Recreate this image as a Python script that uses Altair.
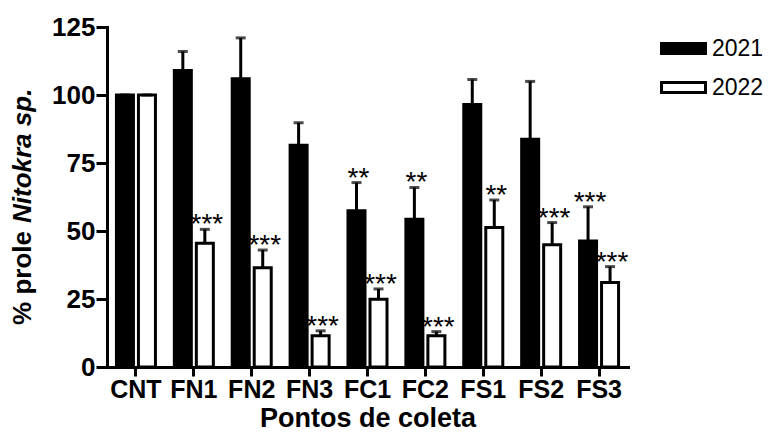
import altair as alt
import pandas as pd

categories = ["CNT", "FN1", "FN2", "FN3", "FC1", "FC2", "FS1", "FS2", "FS3"]
years = ["2021", "2022"]
mean_2021 = [100, 109, 106, 81.5, 57.4, 54.3, 96.5, 83.7, 46.3]
top_2021 = [100, 116, 121, 89.8, 67.8, 66.0, 105.7, 105.0, 58.9]
stars_2021 = ["", "", "", "", "**", "**", "", "", "***"]
mean_2022 = [100, 45.5, 36.5, 11.5, 24.9, 11.5, 51.3, 44.9, 31.1]
top_2022 = [100, 50.6, 43.0, 13.3, 28.7, 13.0, 61.4, 53.1, 36.9]
stars_2022 = ["", "***", "***", "***", "***", "***", "**", "***", "***"]
y_ticks = [0, 25, 50, 75, 100, 125]
y_title_parts = ["% prole", "Nitokra sp."]
x_title = "Pontos de coleta"

rows = []
for i, c in enumerate(categories):
    rows.append({"cat": c, "year": "2021", "val": mean_2021[i], "top": top_2021[i], "star": stars_2021[i]})
    rows.append({"cat": c, "year": "2022", "val": mean_2022[i], "top": top_2022[i], "star": stars_2022[i]})
df = pd.DataFrame(rows)

FONT = "Liberation Sans"

x_axis = alt.Axis(labelAngle=0, values=categories, labelFont=FONT, labelFontSize=25,
                  labelFontWeight="bold", labelColor="black", tickSize=9, labelPadding=1,
                  titleFont=FONT, titleFontSize=27, titleFontWeight="bold", titleColor="black",
                  titlePadding=3, domainColor="black", domainWidth=3, tickColor="black",
                  tickWidth=3, grid=False)
y_axis = alt.Axis(values=y_ticks, labelFont=FONT, labelFontSize=26, labelFontWeight="bold",
                  labelColor="black", tickSize=11, labelPadding=1, domainColor="black",
                  domainWidth=3, tickColor="black", tickWidth=3, grid=False)

x_enc = alt.X("cat:N", sort=categories, title=x_title,
              scale=alt.Scale(paddingInner=0.326, paddingOuter=0.163), axis=x_axis)
xoff = alt.XOffset("year:N", sort=years, scale=alt.Scale(paddingInner=0.227, paddingOuter=0))
y_scale = alt.Scale(domain=[0, 125], nice=False)

base = alt.Chart(df)

bars = base.mark_bar(stroke="black", strokeWidth=3, strokeJoin="miter").encode(
    x=x_enc,
    xOffset=xoff,
    y=alt.Y("val:Q", scale=y_scale, title=None, axis=y_axis),
    fill=alt.Fill("year:N", sort=years, title=None,
                  scale=alt.Scale(domain=years, range=["black", "white"]),
                  legend=alt.Legend(orient="none", legendX=553, legendY=-2,
                                    symbolType="M-1,-0.227H1V0.227H-1Z", symbolSize=1936,
                                    symbolStrokeColor="black", symbolStrokeWidth=3,
                                    labelFont=FONT, labelFontSize=23, labelColor="black",
                                    labelOffset=5, rowPadding=3)),
)

err = base.mark_rule(color="black", strokeWidth=3).encode(
    x=alt.X("cat:N", sort=categories, axis=x_axis, title=x_title), xOffset=xoff,
    y=alt.Y("val:Q", scale=y_scale, title=None, axis=y_axis), y2="top:Q",
)
caps = base.mark_tick(color="black", size=10, thickness=3).encode(
    x=alt.X("cat:N", sort=categories, axis=x_axis, title=x_title), xOffset=xoff,
    y=alt.Y("top:Q", scale=y_scale, title=None, axis=y_axis),
)
stars = base.mark_text(font=FONT, fontSize=28, color="black", baseline="alphabetic", dy=4, dx=2).encode(
    x=alt.X("cat:N", sort=categories, axis=x_axis, title=x_title), xOffset=xoff,
    y=alt.Y("top:Q", scale=y_scale, title=None, axis=y_axis),
    text="star:N",
)

t1 = alt.Chart(pd.DataFrame({"t": [y_title_parts[0]]})).mark_text(
    font=FONT, fontSize=26, fontWeight="bold", angle=270, align="right", baseline="alphabetic",
    color="black"
).encode(x=alt.value(-76), y=alt.value(204), text="t:N")
t2 = alt.Chart(pd.DataFrame({"t": [y_title_parts[1]]})).mark_text(
    font=FONT, fontSize=26, fontWeight="bold", fontStyle="italic", angle=270, align="left",
    baseline="alphabetic", color="black"
).encode(x=alt.value(-76), y=alt.value(196), text="t:N")

chart = alt.layer(bars, err, caps, stars, t1, t2).properties(
    width=521, height=340,
    autosize=alt.AutoSizeParams(type="none"),
    padding={"left": 99, "top": 19, "right": 141, "bottom": 66},
).configure_view(stroke=None).configure_axis(domainCap="square")

chart.save("out.html", embed_options={"renderer": "svg", "actions": False})
